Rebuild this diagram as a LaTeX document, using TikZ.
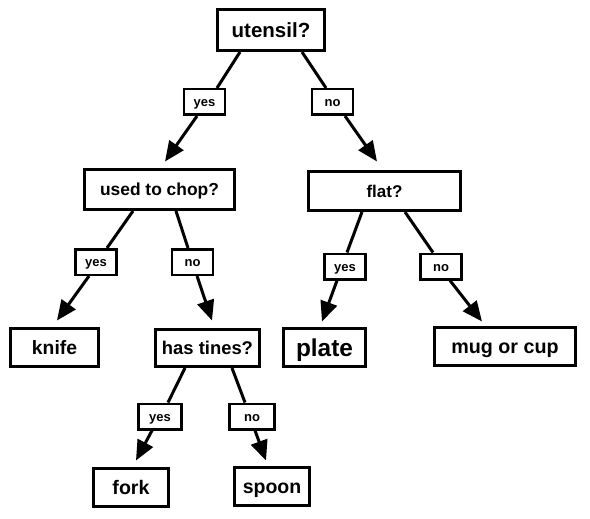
\documentclass[tikz,border=0pt]{standalone}
\usepackage{fontspec}
\setmainfont{Liberation Sans}
\usetikzlibrary{arrows.meta}
\tikzset{
  box/.style 2 args={draw, line width=3pt, inner sep=0pt, text depth=0pt, text height=#2, font=\bfseries\fontsize{#1}{#1}\selectfont},
  lbl/.style={draw, line width=2.5pt, inner sep=0pt, text height=9.4pt, text depth=0pt, minimum width=#1, minimum height=25.5pt, font=\bfseries\fontsize{13}{15}\selectfont},
  lbl/.default=41pt,
  link/.style={line width=3pt},
  arr/.style={line width=3pt, -{Triangle[length=20pt,width=17pt]}},
}
\begin{document}
\begin{tikzpicture}[x=1pt,y=-1pt]
\useasboundingbox[fill=white] (0,0) rectangle (590,519);
% decision / leaf boxes
\node[box={20.5}{14.8pt}, minimum width=107pt, minimum height=41pt] (utensil) at (271,30) {utensil?};
\node[box={17.4}{12.5pt}, minimum width=150pt, minimum height=40pt] (chop) at (159.5,189.5) {used to chop?};
\node[box={17}{12.2pt}, minimum width=152pt, minimum height=39pt] (flat) at (384.5,191) {flat?};
\node[box={19.3}{13.9pt}, minimum width=88pt, minimum height=38pt] (knife) at (54.5,347.5) {knife};
\node[box={18.4}{13.2pt}, minimum width=104pt, minimum height=37pt] (tines) at (207.5,348) {has tines?};
\node[box={24.4}{17.6pt}, minimum width=82pt, minimum height=38pt] (plate) at (324.5,347.5) {plate};
\node[box={19.7}{14.2pt}, minimum width=141pt, minimum height=38pt] (mug) at (505,346.5) {mug or cup};
\node[box={19.6}{14.1pt}, minimum width=75pt, minimum height=38pt] (fork) at (131,487.5) {fork};
\node[box={19.5}{14pt}, minimum width=75pt, minimum height=38pt] (spoon) at (272,486.5) {spoon};
% edge labels
\node[lbl] (y1) at (204.5,102) {yes};
\node[lbl] (n1) at (332.5,102) {no};
\node[lbl] (y2) at (96,262) {yes};
\node[lbl] (n2) at (192.5,262) {no};
\node[lbl] (y3) at (345,266.5) {yes};
\node[lbl] (n3) at (441,266.5) {no};
\node[lbl=43pt] (y4) at (160,416.5) {yes};
\node[lbl=45pt] (n4) at (252,416.5) {no};
% connectors
\draw[link] ([xshift=-31pt]utensil.south) -- ([xshift=12.5pt]y1.north);
\draw[arr] ([xshift=-7.5pt]y1.south) -- ([xshift=5.5pt,yshift=6.5pt]chop.north);
\draw[link] ([xshift=31pt]utensil.south) -- ([xshift=-6.5pt]n1.north);
\draw[arr] ([xshift=12.5pt]n1.south) -- ([xshift=-7.5pt,yshift=8.5pt]flat.north);
\draw[link] ([xshift=-26.5pt]chop.south) -- ([xshift=11pt]y2.north);
\draw[arr] ([xshift=-7pt]y2.south) -- ([xshift=2.5pt,yshift=6.5pt]knife.north);
\draw[link] ([xshift=16.5pt]chop.south) -- ([xshift=-4.5pt]n2.north);
\draw[arr] ([xshift=4.5pt]n2.south) -- ([xshift=4.5pt,yshift=7.5pt]tines.north);
\draw[link] ([xshift=-22.5pt]flat.south) -- ([xshift=2pt]y3.north);
\draw[arr] ([xshift=-8pt]y3.south) -- ([xshift=-2.5pt,yshift=5.5pt]plate.north);
\draw[link] ([xshift=20.5pt]flat.south) -- ([xshift=-8pt]n3.north);
\draw[arr] ([xshift=9pt]n3.south) -- ([xshift=-23pt,yshift=4.5pt]mug.north);
\draw[link] ([xshift=-22.5pt]tines.south) -- ([xshift=8pt]y4.north);
\draw[arr] ([xshift=-8pt]y4.south) -- ([xshift=5pt,yshift=6.5pt]fork.north);
\draw[link] ([xshift=24.5pt]tines.south) -- ([xshift=-7pt]n4.north);
\draw[arr] ([xshift=3pt]n4.south) -- ([xshift=-6pt,yshift=5.5pt]spoon.north);
\end{tikzpicture}
\end{document}
